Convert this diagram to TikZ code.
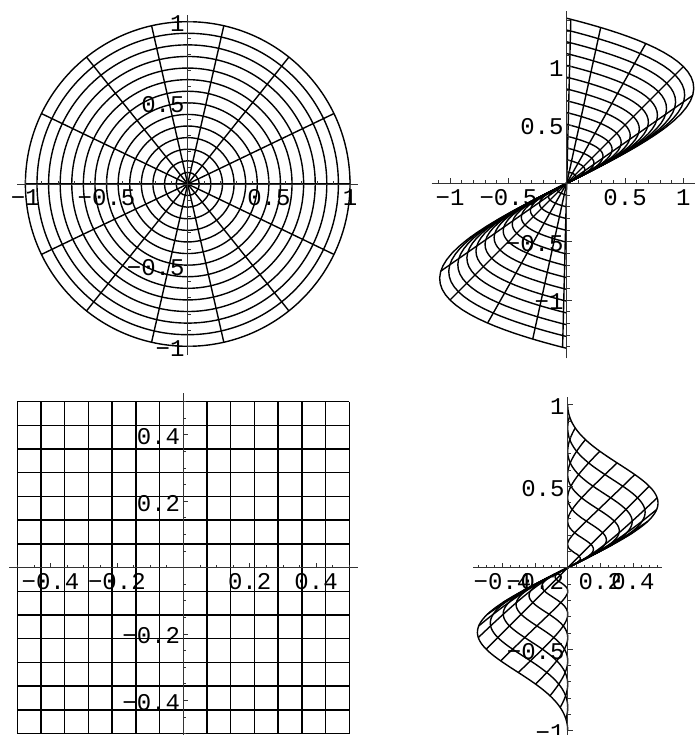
\documentclass[tikz,border=0pt]{standalone}
\usepackage{fontspec}
\newfontfamily\tickfont{Liberation Mono}

\tikzset{
  mesh/.style={line width=1.4pt, black},
  axisline/.style={line width=0.8pt, black!80},
  majortick/.style={line width=0.8pt, black!80},
  minortick/.style={line width=0.6pt, black!80},
  ticklabel/.style={font=\tickfont\fontsize{24}{24}\selectfont, inner sep=0pt},
  xlab/.style={ticklabel, yshift=-14pt},
  ylab/.style={ticklabel, anchor=east, xshift=-3pt, yshift=-2pt},
}

\begin{document}
\begin{tikzpicture}[x=1pt, y=1pt]
  \useasboundingbox (0,0) rectangle (694,735);

  % 左上：単位円板（同心円と放射線）
  \begin{scope}[shift={(187.7pt,551pt)}, x=162.3pt, y=162.3pt]
    \foreach \k in {1,...,14}
      \draw[mesh] (0,0) circle[radius={\k/14}];
    \foreach \k in {0,...,13}
      \draw[mesh] (0,0) -- ({360*\k/14}:1);
    \draw[axisline] (-1.05,0) -- (1.05,0);
    \draw[axisline] (0,-1.055) -- (0,1.04);
    \foreach \k in {-10,...,10} {
      \ifnum\k=0\else
        \draw[minortick] ({\k/10},0) -- ++(0pt,3pt);
        \draw[minortick] (0,{\k/10}) -- ++(3pt,0pt);
      \fi
    }
    \foreach \v in {-1,-0.5,0.5,1} {
      \draw[majortick] (\v,0) -- ++(0pt,5pt);
      \draw[majortick] (0,\v) -- ++(5pt,0pt);
    }
    \node[xlab] (dxa) at (-1,0) {−1};
    \node[xlab] (dxb) at (-0.5,0) {−0.5};
    \node[xlab] (dxc) at (0.5,0) {0.5};
    \node[xlab] (dxd) at (1,0) {1};
    \node[ylab] (dya) at (0,1) {1};
    \node[ylab] (dyb) at (0,0.5) {0.5};
    \node[ylab] (dyc) at (0,-0.5) {−0.5};
    \node[ylab] (dyd) at (0,-1) {−1};
  \end{scope}

  % 右上：円板の像
  \begin{scope}[shift={(566.7pt,551.7pt)}, x=116.7pt, y=116.7pt]
    \foreach \k in {1,...,14}
      \draw[mesh] plot[domain=0:360, samples=145, variable=\t]
        ({2.828427*\k/14*sin(\t)*cos(\t)*cos(\t)}, {1.414214*\k/14*sin(\t)});
    \foreach \k in {0,...,13} {
      \pgfmathsetmacro\s{360*\k/14+45}
      \draw[mesh] (0,0) -- ({2.828427*sin(\s)*cos(\s)*cos(\s)}, {1.414214*sin(\s)});
    }
    \draw[axisline] (-1.157,0) -- (1.2,0);
    \draw[axisline] (0,-1.5) -- (0,1.48);
    \foreach \k in {-11,...,11} {
      \ifnum\k=0\else
        \draw[minortick] ({\k/10},0) -- ++(0pt,3pt);
      \fi
    }
    \foreach \k in {-14,...,14} {
      \ifnum\k=0\else
        \draw[minortick] (0,{\k/10}) -- ++(3pt,0pt);
      \fi
    }
    \foreach \v in {-1,-0.5,0.5,1} {
      \draw[majortick] (\v,0) -- ++(0pt,5pt);
      \draw[majortick] (0,\v) -- ++(5pt,0pt);
    }
    \node[xlab] (ixa) at (-1,0) {−1};
    \node[xlab] (ixb) at (-0.5,0) {−0.5};
    \node[xlab] (ixc) at (0.5,0) {0.5};
    \node[xlab] (ixd) at (1,0) {1};
    \node[ylab] (iya) at (0,1) {1};
    \node[ylab] (iyb) at (0,0.5) {0.5};
    \node[ylab] (iyc) at (0,-0.5) {−0.5};
    \node[ylab] (iyd) at (0,-1) {−1};
  \end{scope}

  % 左下：正方形の格子
  \begin{scope}[shift={(183.3pt,167.4pt)}, x=332pt, y=332pt]
    \foreach \k in {0,...,14} {
      \draw[mesh] ({-0.5+\k/14},-0.5) -- ({-0.5+\k/14},0.5);
      \draw[mesh] (-0.5,{-0.5+\k/14}) -- (0.5,{-0.5+\k/14});
    }
    \draw[axisline] (-0.525,0) -- (0.525,0);
    \draw[axisline] (0,-0.53) -- (0,0.525);
    \foreach \k in {-10,...,10} {
      \ifnum\k=0\else
        \draw[minortick] ({\k/20},0) -- ++(0pt,3pt);
        \draw[minortick] (0,{\k/20}) -- ++(3pt,0pt);
      \fi
    }
    \foreach \v in {-0.4,-0.2,0.2,0.4} {
      \draw[majortick] (\v,0) -- ++(0pt,5pt);
      \draw[majortick] (0,\v) -- ++(5pt,0pt);
    }
    \node[xlab] (sxa) at (-0.4,0) {−0.4};
    \node[xlab] (sxb) at (-0.2,0) {−0.2};
    \node[xlab] (sxc) at (0.2,0) {0.2};
    \node[xlab] (sxd) at (0.4,0) {0.4};
    \node[ylab] (sya) at (0,0.4) {0.4};
    \node[ylab] (syb) at (0,0.2) {0.2};
    \node[ylab] (syc) at (0,-0.2) {−0.2};
    \node[ylab] (syd) at (0,-0.4) {−0.4};
  \end{scope}

  % 右下：正方形の像（x=0 の線は直線になる）
  \begin{scope}[shift={(567.7pt,167.3pt)}, x=163pt, y=163pt]
    \foreach \k in {0,...,14} {
      \ifnum\k=7
        \draw[mesh] (-0.5,-0.5) -- (0.5,0.5);
      \else
        \pgfmathsetmacro\c{-0.5+\k/14}
        \draw[mesh] plot[domain=-0.5:0.5, samples=101, variable=\y]
          ({((\c)+(\y))*((\c)-(\y))*((\c)-(\y))/((\c)*(\c)+(\y)*(\y))}, {(\c)+(\y)});
      \fi
    }
    \draw[axisline] (-0.578,0) -- (0.576,0);
    \draw[axisline] (0,-1.05) -- (0,1.048);
    \foreach \k in {-11,...,11} {
      \ifnum\k=0\else
        \draw[minortick] ({\k/20},0) -- ++(0pt,3pt);
      \fi
    }
    \foreach \k in {-10,...,10} {
      \ifnum\k=0\else
        \draw[minortick] (0,{\k/10}) -- ++(3pt,0pt);
      \fi
    }
    \foreach \v in {-0.4,-0.2,0.2,0.4}
      \draw[majortick] (\v,0) -- ++(0pt,5pt);
    \foreach \v in {-1,-0.5,0.5,1}
      \draw[majortick] (0,\v) -- ++(5pt,0pt);
    \node[xlab] (qxa) at (-0.4,0) {−0.4};
    \node[xlab] (qxb) at (-0.2,0) {−0.2};
    \node[xlab] (qxc) at (0.2,0) {0.2};
    \node[xlab] (qxd) at (0.4,0) {0.4};
    \node[ylab] (qya) at (0,1) {1};
    \node[ylab] (qyb) at (0,0.5) {0.5};
    \node[ylab] (qyc) at (0,-0.5) {−0.5};
    \node[ylab] (qyd) at (0,-1) {−1};
  \end{scope}
\end{tikzpicture}
\end{document}
